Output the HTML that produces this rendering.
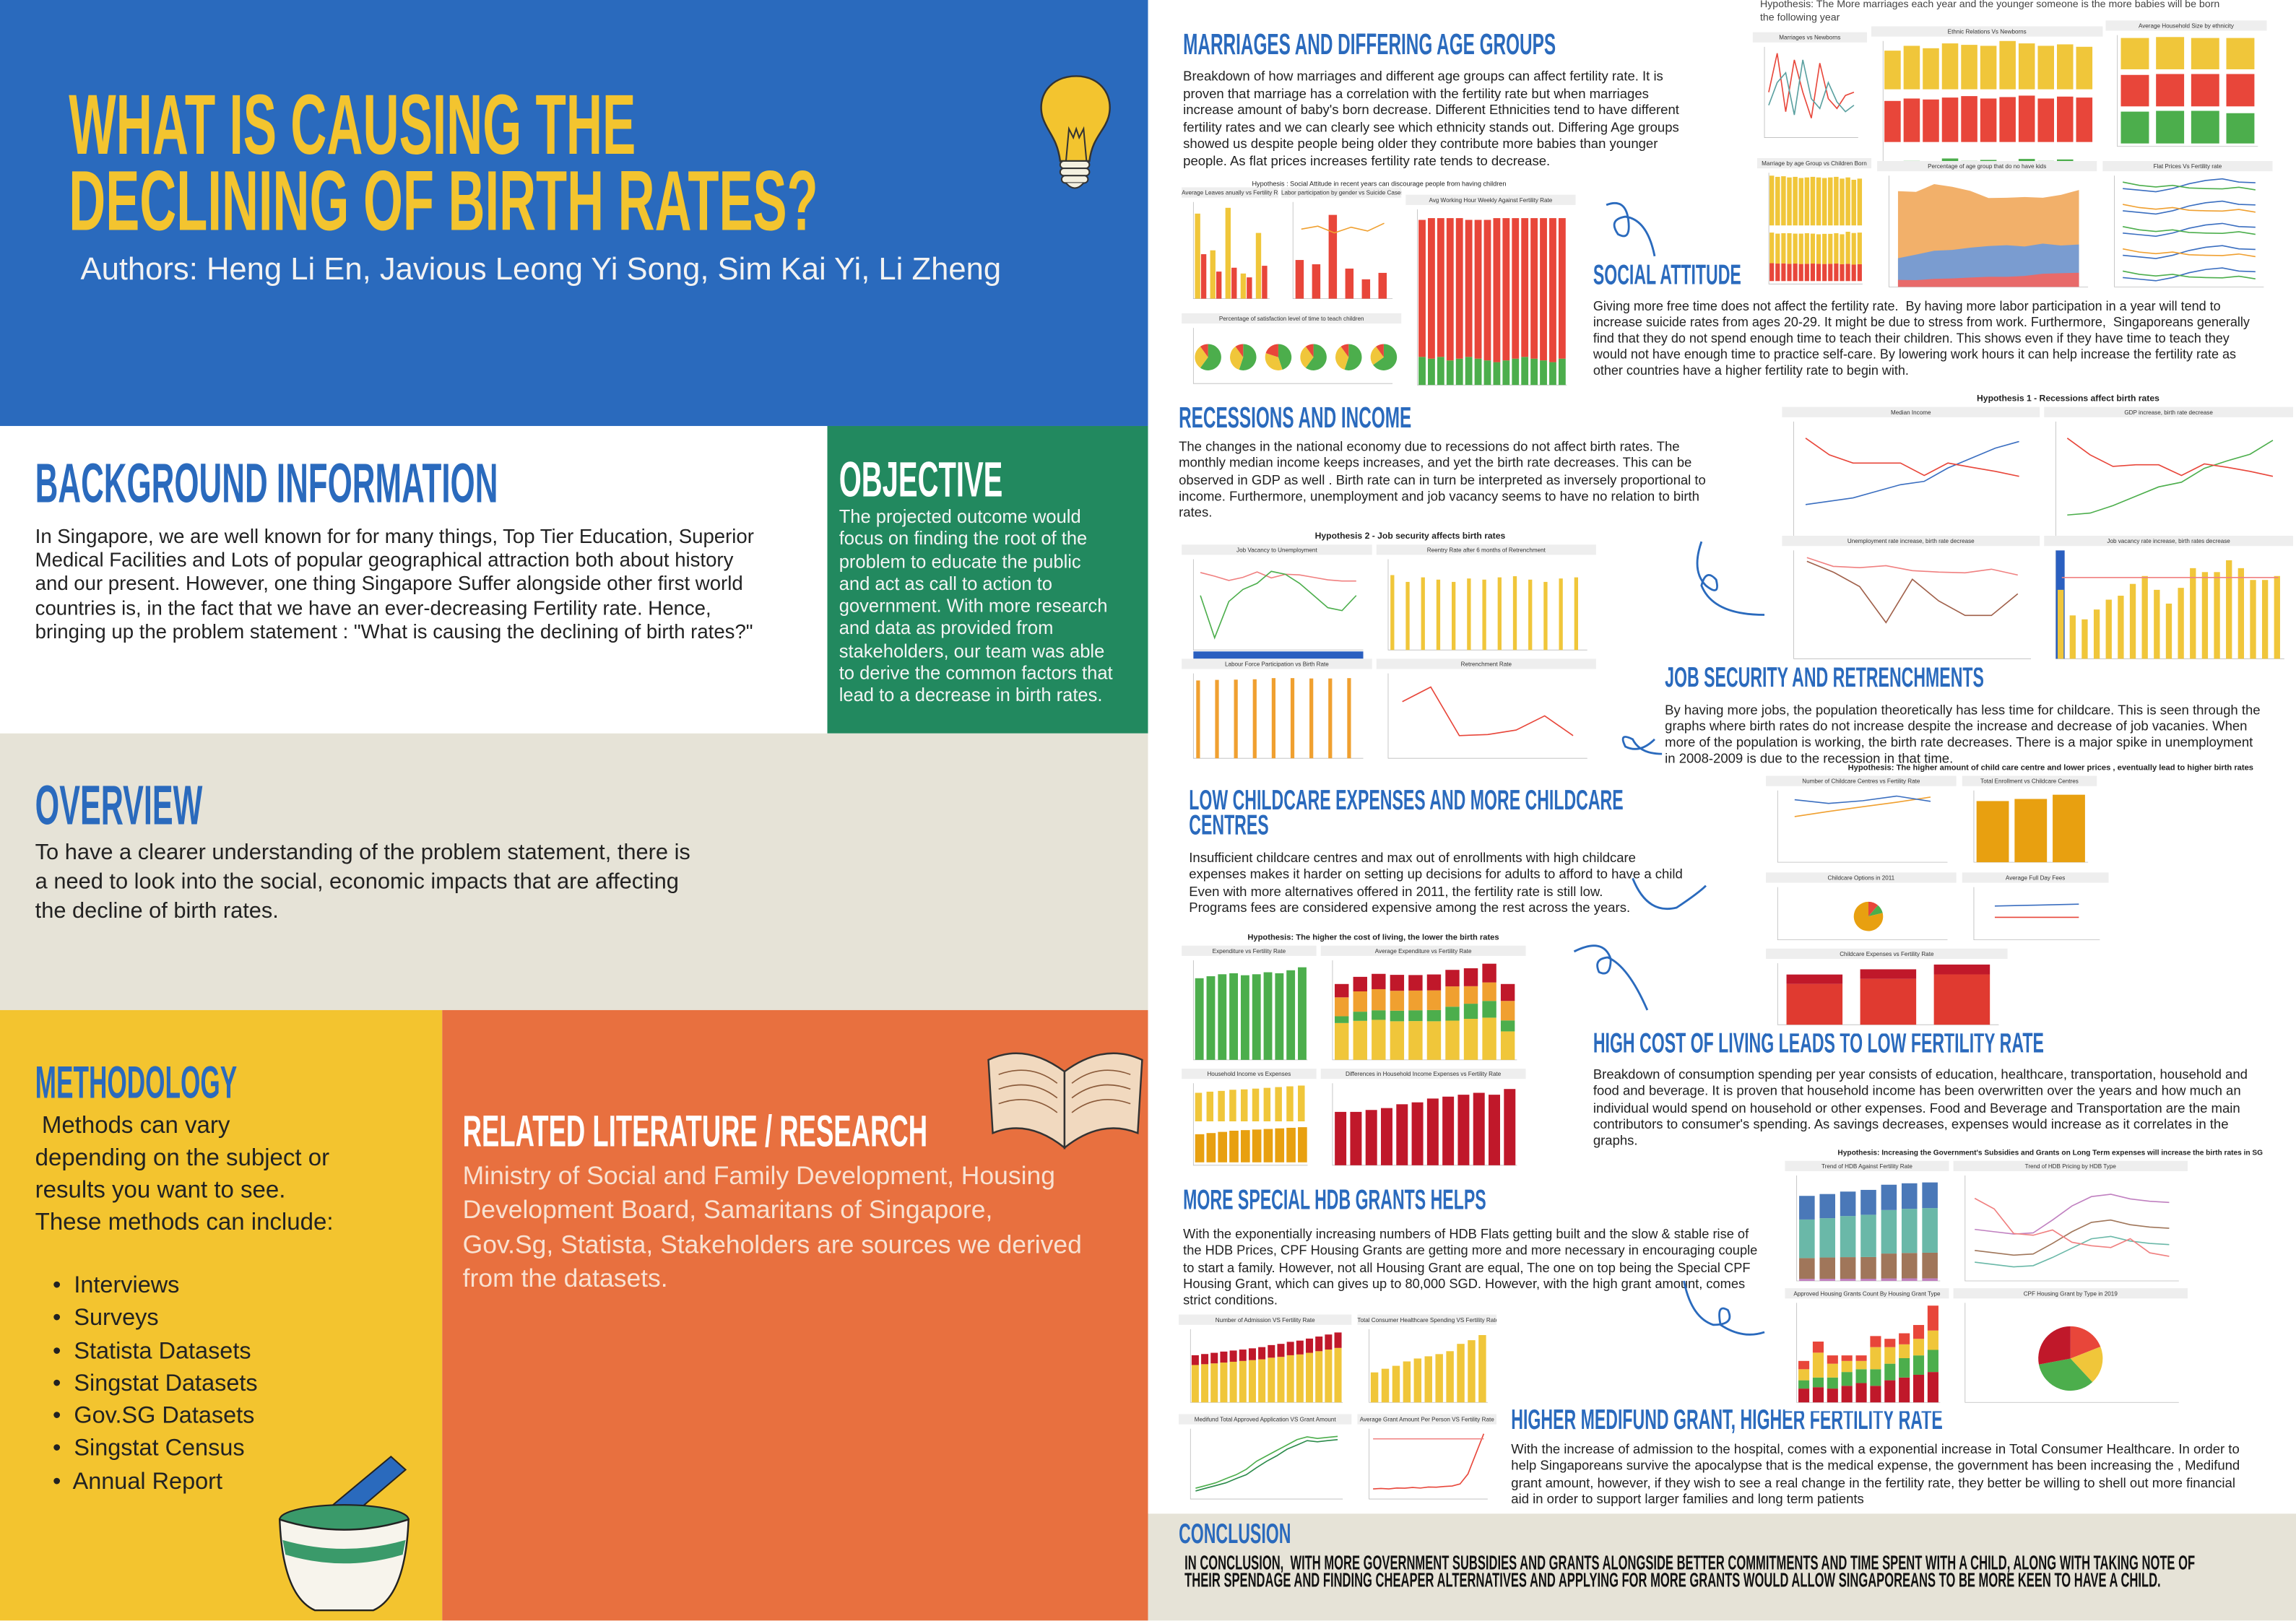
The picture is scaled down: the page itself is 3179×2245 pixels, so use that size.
<!DOCTYPE html>
<html><head><meta charset="utf-8">
<style>
html,body{margin:0;padding:0;background:#fff;}
body{width:3179px;height:2245px;overflow:hidden;}
#poster{position:absolute;left:0;top:0;width:1568px;height:1107px;transform:scale(2.02742);transform-origin:0 0;font-family:"Liberation Sans Narrow","Liberation Sans",sans-serif;}
.blk{position:absolute;}
.h{position:absolute;font-family:"Liberation Sans Narrow","Liberation Sans",sans-serif;font-weight:bold;white-space:nowrap;transform-origin:0 0;transform:scaleX(0.64);color:#2a6abd;}
.t{position:absolute;white-space:nowrap;color:#222;}
.rt{font-size:9.15px;}
.panel{position:absolute;background:#fff;}
.ptitle{position:absolute;left:0;right:0;top:0;height:7px;background:#eee;font-size:4px;line-height:7px;text-align:center;color:#333;font-family:"Liberation Sans",sans-serif;overflow:hidden;white-space:nowrap;}
svg{position:absolute;overflow:visible;}
</style></head><body>
<div id="poster">

<div class="blk" style="left:0;top:0;width:784px;height:291px;background:#2a6abd;"></div>
<div class="h" style="left:47px;top:52px;font-size:58px;color:#f3c42f;transform:scaleX(0.59);">WHAT IS CAUSING THE</div>
<div class="h" style="left:47px;top:104px;font-size:58px;color:#f3c42f;transform:scaleX(0.6);">DECLINING OF BIRTH RATES?</div>
<div class="t" style="left:55px;top:172px;font-family:'Liberation Sans',sans-serif;font-size:21.5px;color:#f2f2f2;">Authors: Heng Li En, Javious Leong Yi Song, Sim Kai Yi, Li Zheng</div>
<svg style="left:700px;top:48px" width="70" height="90" viewBox="0 0 70 90">
<path d="M35 4 C17 4 8 18 12 32 C15 42 22 46 24 62 L44 62 C46 46 54 42 57 32 C61 18 52 4 35 4 Z" fill="#f3c42f" stroke="#333" stroke-width="1.2"/>
<path d="M28 62 L30 40 L33 46 L35 40 L37 46 L40 40 L42 62" fill="none" stroke="#333" stroke-width="1"/>
<rect x="24" y="62" width="20" height="5" rx="2.5" fill="#f4f0e0" stroke="#333"/><rect x="24" y="67" width="20" height="5" rx="2.5" fill="#f4f0e0" stroke="#333"/><rect x="25" y="72" width="18" height="5" rx="2.5" fill="#f4f0e0" stroke="#333"/><path d="M28 77 Q34 84 40 77" fill="#f4f0e0" stroke="#333"/>
</svg>

<div class="blk" style="left:0;top:291px;width:565px;height:210px;background:#fff;"></div>
<div class="h" style="left:24px;top:310px;font-size:38px;transform:scaleX(0.57);">BACKGROUND INFORMATION</div>
<div class="t" style="left:24px;top:359px;font-size:13.6px;line-height:16.2px;">In Singapore, we are well known for for many things, Top Tier Education, Superior<br>Medical Facilities and Lots of popular geographical attraction both about history<br>and our present. However, one thing Singapore Suffer alongside other first world<br>countries is, in the fact that we have an ever-decreasing Fertility rate. Hence,<br>bringing up the problem statement : "What is causing the declining of birth rates?"</div>

<div class="blk" style="left:565px;top:291px;width:219px;height:210px;background:#22895f;"></div>
<div class="h" style="left:573px;top:309px;font-size:34px;color:#fff;transform:scaleX(0.58);">OBJECTIVE</div>
<div class="t" style="left:573px;top:346px;font-size:12.6px;line-height:15.3px;color:#f4f4f4;">The projected outcome would<br>focus on finding the root of the<br>problem to educate the public<br>and act as call to action to<br>government. With more research<br>and data as provided from<br>stakeholders, our team was able<br>to derive the common factors that<br>lead to a decrease in birth rates.</div>

<div class="blk" style="left:0;top:501px;width:784px;height:189px;background:#e6e3d7;"></div>
<div class="h" style="left:24px;top:530px;font-size:38px;transform:scaleX(0.56);">OVERVIEW</div>
<div class="t" style="left:24px;top:573px;font-family:'Liberation Sans',sans-serif;font-size:15.2px;line-height:20px;">To have a clearer understanding of the problem statement, there is<br>a need to look into the social, economic impacts that are affecting<br>the decline of birth rates.</div>

<div class="blk" style="left:0;top:690px;width:302px;height:417px;background:#f3c42f;"></div>
<div class="h" style="left:24px;top:722px;font-size:31px;transform:scaleX(0.56);">METHODOLOGY</div>
<div class="t" style="left:24px;top:758px;font-family:'Liberation Sans',sans-serif;font-size:16.3px;line-height:22px;color:#222;">&nbsp;Methods can vary<br>depending on the subject or<br>results you want to see.<br>These methods can include:</div>
<div class="t" style="left:36px;top:868px;font-family:'Liberation Sans',sans-serif;font-size:16px;line-height:22.3px;color:#222;">•&nbsp; Interviews<br>•&nbsp; Surveys<br>•&nbsp; Statista Datasets<br>•&nbsp; Singstat Datasets<br>•&nbsp; Gov.SG Datasets<br>•&nbsp; Singstat Census<br>•&nbsp; Annual Report</div>
<svg style="left:185px;top:990px" width="100" height="117" viewBox="0 0 100 117">
<path d="M40 40 L82 5 L92 14 L52 48 Z" fill="#2a6abd" stroke="#222" stroke-width="1"/>
<ellipse cx="50" cy="48" rx="44" ry="10" fill="#3a9a6a" stroke="#222"/>
<path d="M6 48 Q8 100 30 110 L70 110 Q92 100 94 48 Q50 62 6 48 Z" fill="#f7f4ec" stroke="#222" stroke-width="1.2"/>
<path d="M8 62 Q50 74 92 62 L90 72 Q50 84 10 72 Z" fill="#3a9a6a"/>
</svg>

<div class="blk" style="left:302px;top:690px;width:482px;height:417px;background:#e8703f;"></div>
<div class="h" style="left:316px;top:757px;font-size:30px;color:#fff;transform:scaleX(0.6);">RELATED LITERATURE / RESEARCH</div>
<div class="t" style="left:316px;top:792px;font-family:'Liberation Sans',sans-serif;font-size:17.5px;line-height:23.3px;color:#f8e2d2;">Ministry of Social and Family Development, Housing<br>Development Board, Samaritans of Singapore,<br>Gov.Sg, Statista, Stakeholders are sources we derived<br>from the datasets.</div>
<svg style="left:670px;top:712px" width="115" height="80" viewBox="0 0 115 80">
<path d="M57 20 Q30 0 5 12 L8 62 Q32 52 57 72 Z" fill="#f1d9bf" stroke="#333" stroke-width="1.2"/>
<path d="M57 20 Q84 0 110 12 L107 62 Q82 52 57 72 Z" fill="#f1d9bf" stroke="#333" stroke-width="1.2"/>
<path d="M12 22 Q34 14 52 28 M12 32 Q34 24 52 38 M12 42 Q34 34 52 48 M62 28 Q80 14 102 22 M62 38 Q80 24 102 32 M62 48 Q80 34 102 42" stroke="#8a5a3a" stroke-width="0.8" fill="none"/>
</svg>

<div class="blk" style="left:784px;top:0;width:784px;height:1034px;background:#fff;"></div>
<div class="blk" style="left:784px;top:1034px;width:784px;height:73px;background:#e6e3d7;"></div>

<div class="h" style="left:808px;top:20px;font-size:20px;transform:scaleX(0.6);">MARRIAGES AND DIFFERING AGE GROUPS</div>
<div class="t rt" style="left:808px;top:47px;line-height:11.6px;">Breakdown of how marriages and different age groups can affect fertility rate. It is<br>proven that marriage has a correlation with the fertility rate but when marriages<br>increase amount of baby's born decrease. Different Ethnicities tend to have different<br>fertility rates and we can clearly see which ethnicity stands out. Differing Age groups<br>showed us despite people being older they contribute more babies than younger<br>people. As flat prices increases fertility rate tends to decrease.</div>

<div class="h" style="left:1088px;top:178px;font-size:19px;transform:scaleX(0.6);">SOCIAL ATTITUDE</div>
<div class="t rt" style="left:1088px;top:204px;font-size:8.9px;line-height:10.9px;">Giving more free time does not affect the fertility rate.&nbsp; By having more labor participation in a year will tend to<br>increase suicide rates from ages 20-29. It might be due to stress from work. Furthermore,&nbsp; Singaporeans generally<br>find that they do not spend enough time to teach their children. This shows even if they have time to teach they<br>would not have enough time to practice self-care. By lowering work hours it can help increase the fertility rate as<br>other countries have a higher fertility rate to begin with.</div>

<div class="h" style="left:805px;top:275px;font-size:20px;transform:scaleX(0.6);">RECESSIONS AND INCOME</div>
<div class="t rt" style="left:805px;top:300px;line-height:11.3px;">The changes in the national economy due to recessions do not affect birth rates. The<br>monthly median income keeps increases, and yet the birth rate decreases. This can be<br>observed in GDP as well . Birth rate can in turn be interpreted as inversely proportional to<br>income. Furthermore, unemployment and job vacancy seems to have no relation to birth<br>rates.</div>

<div class="h" style="left:1137px;top:453px;font-size:19px;transform:scaleX(0.6);">JOB SECURITY AND RETRENCHMENTS</div>
<div class="t rt" style="left:1137px;top:480px;line-height:11px;">By having more jobs, the population theoretically has less time for childcare. This is seen through the<br>graphs where birth rates do not increase despite the increase and decrease of job vacanies. When<br>more of the population is working, the birth rate decreases. There is a major spike in unemployment<br>in 2008-2009 is due to the recession in that time.</div>

<div class="h" style="left:812px;top:539px;font-size:19px;line-height:17px;transform:scaleX(0.6);">LOW CHILDCARE EXPENSES AND MORE CHILDCARE<br>CENTRES</div>
<div class="t rt" style="left:812px;top:581px;line-height:11.3px;">Insufficient childcare centres and max out of enrollments with high childcare<br>expenses makes it harder on setting up decisions for adults to afford to have a child<br>Even with more alternatives offered in 2011, the fertility rate is still low.<br>Programs fees are considered expensive among the rest across the years.</div>

<div class="h" style="left:1088px;top:703px;font-size:19px;transform:scaleX(0.6);">HIGH COST OF LIVING LEADS TO LOW FERTILITY RATE</div>
<div class="t rt" style="left:1088px;top:729px;line-height:11.3px;">Breakdown of consumption spending per year consists of education, healthcare, transportation, household and<br>food and beverage. It is proven that household income has been overwritten over the years and how much an<br>individual would spend on household or other expenses. Food and Beverage and Transportation are the main<br>contributors to consumer's spending. As savings decreases, expenses would increase as it correlates in the<br>graphs.</div>

<div class="h" style="left:808px;top:810px;font-size:19px;transform:scaleX(0.6);">MORE SPECIAL HDB GRANTS HELPS</div>
<div class="t rt" style="left:808px;top:838px;font-size:9px;line-height:11.3px;">With the exponentially increasing numbers of HDB Flats getting built and the slow &amp; stable rise of<br>the HDB Prices, CPF Housing Grants are getting more and more necessary in encouraging couple<br>to start a family. However, not all Housing Grant are equal, The one on top being the Special CPF<br>Housing Grant, which can gives up to 80,000 SGD. However, with the high grant amount, comes<br>strict conditions.</div>

<div class="h" style="left:1032px;top:960px;font-size:19px;transform:scaleX(0.6);">HIGHER MEDIFUND GRANT, HIGHER FERTILITY RATE</div>
<div class="t rt" style="left:1032px;top:985px;line-height:11.3px;">With the increase of admission to the hospital, comes with a exponential increase in Total Consumer Healthcare. In order to<br>help Singaporeans survive the apocalypse that is the medical expense, the government has been increasing the , Medifund<br>grant amount, however, if they wish to see a real change in the fertility rate, they better be willing to shell out more financial<br>aid in order to support larger families and long term patients</div>

<div class="h" style="left:805px;top:1038px;font-size:19px;transform:scaleX(0.6);">CONCLUSION</div>
<div class="h" style="left:809px;top:1062px;font-size:13.5px;line-height:12px;color:#111;transform:scaleX(0.605);">IN CONCLUSION,&nbsp; WITH MORE GOVERNMENT SUBSIDIES AND GRANTS ALONGSIDE BETTER COMMITMENTS AND TIME SPENT WITH A CHILD, ALONG WITH TAKING NOTE OF<br>THEIR SPENDAGE AND FINDING CHEAPER ALTERNATIVES AND APPLYING FOR MORE GRANTS WOULD ALLOW SINGAPOREANS TO BE MORE KEEN TO HAVE A CHILD.</div>

<div class="t" style="left:1202px;top:-1px;font-size:7px;line-height:9px;color:#444;">Hypothesis: The More marriages each year and the younger someone is the more babies will be born<br>the following year</div>
<div class="t" style="left:1350px;top:270px;font-size:6px;font-weight:bold;color:#222;">Hypothesis 1 - Recessions affect birth rates</div>
<div class="t" style="left:898px;top:364px;font-size:6px;font-weight:bold;color:#222;">Hypothesis 2 - Job security affects birth rates</div>
<div class="t" style="left:1262px;top:522px;font-size:5.5px;font-weight:bold;color:#222;">Hypothesis: The higher amount of child care centre and lower prices , eventually lead to higher birth rates</div>
<div class="t" style="left:852px;top:638px;font-size:5.5px;font-weight:bold;color:#222;">Hypothesis: The higher the cost of living, the lower the birth rates</div>
<div class="t" style="left:1255px;top:785px;font-size:5px;font-weight:bold;color:#222;">Hypothesis: Increasing the Government's Subsidies and Grants on Long Term expenses will increase the birth rates in SG</div>
<div class="t" style="left:855px;top:123px;font-size:4.5px;color:#222;">Hypothesis : Social Attitude in recent years can discourage people from having children</div>

<svg id="deco" style="left:0;top:0" width="1568" height="1107" viewBox="0 0 1568 1107">
<g fill="none" stroke="#2a6abd" stroke-width="1.4">
<path d="M1097 140 Q1110 135 1112 150 Q1114 165 1105 160 Q1098 150 1110 148 Q1125 150 1130 175"/>
<path d="M1162 370 Q1155 390 1165 400 Q1175 408 1172 396 Q1165 388 1162 400 Q1170 420 1205 420"/>
<path d="M1130 505 Q1120 515 1110 510 Q1105 500 1115 505 Q1120 515 1135 515"/>
<path d="M1115 600 Q1125 625 1145 620 Q1160 610 1165 605"/>
<path d="M1075 650 Q1095 640 1100 655 Q1100 668 1092 664 Q1088 655 1098 654 Q1112 660 1125 690"/>
<path d="M1150 875 Q1155 900 1170 905 Q1185 905 1180 895 Q1172 890 1175 905 Q1190 915 1205 910"/>
</g></svg>

<div id="charts"></div>
</div>

<script>
const leaveCountries = ['Indonesia','Japan','Russia','Singapore','UK'];
const leaveDays = [4.4, 2.5, 4.7, 1.3, 3.4];
const leaveFert = [2.3, 1.4, 1.6, 1.1, 1.7];
const labourYears = ['2014','2015','2016','2017','2018','2019'];
const labourPart = [1.8, 1.6, 3.9, 1.4, 0.9, 1.2];
const suicideLine = [0.72, 0.75, 0.68, 0.74, 0.70, 0.78];
const workHourYears = ['2010','2011','2012','2013','2014','2015','2016','2017','2018','2019','2020','2021','2022','2023','2024','2025'];
const workRed = [78,80,79,81,80,78,79,80,82,81,80,79,80,81,82,80];
const workGreen = [16,15,16,14,15,16,15,14,13,14,15,16,15,14,13,15];
const pieCountries = ['Global','Indonesia','Japan','Russia','Singapore','UK'];
const pieSatisfied = [60, 55, 45, 60, 55, 65];
const pieNeutral = [30, 35, 35, 30, 35, 25];
const pieUnsat = [10, 10, 20, 10, 10, 10];
const marriageYears = ['2009','2010','2011','2012','2013','2014','2015','2016','2017','2018','2019'];
const marriageChange = [0.02, 0.14, -0.04, 0.12, 0.02, -0.06, 0.11, 0.0, -0.03, 0.01, 0.02];
const newbornChange = [-0.02, 0.05, 0.08, -0.05, 0.12, 0.0, -0.03, 0.05, -0.01, -0.04, -0.02];
const ethYears = ['2008','2009','2010','2011','2012','2013','2014','2015','2016','2017','2018'];
const ethChinese = [0.8, 0.9, 0.85, 0.95, 0.92, 0.9, 1.0, 0.95, 0.9, 0.93, 0.88];
const ethMalay = [0.85, 0.9, 0.88, 0.92, 0.95, 0.9, 0.93, 0.96, 0.9, 0.94, 0.92];
const ethOthers = [0.6, 0.7, 0.65, 0.75, 0.7, 0.72, 0.68, 0.74, 0.7, 0.73, 0.69];
const hhYears = ['2008','2010','2013','2015'];
const hhChinese = [3.3, 3.4, 3.3, 3.3];
const hhMalay = [3.5, 3.6, 3.6, 3.6];
const hhOthers = [4.1, 4.2, 4.2, 3.9];
const ageYears = ['2011','2012','2013','2014','2015','2016','2017','2018','2019','2020','2021','2022','2023','2024','2025','2026'];
const ageA = [0.85,0.83,0.84,0.82,0.83,0.81,0.82,0.83,0.82,0.81,0.82,0.83,0.8,0.82,0.78,0.8];
const ageB = [1.45,1.42,1.43,1.45,1.42,1.44,1.45,1.42,1.40,1.43,1.42,1.44,1.42,1.52,1.5,1.5];
const nokidYears = ['1999','2001','2003','2005','2007','2009','2011','2013','2015','2017','2019'];
const nokidOld = [3.5, 3.3, 4.0, 4.2, 4.6, 5.0, 5.0, 5.4, 6.5, 6.8, 7.0];
const nokidMid = [14.2, 16.0, 17.9, 18.3, 19.4, 20.2, 20.6, 20.0, 21.4, 20.5, 21.0];
const nokidYoung = [47.3, 47.0, 50.8, 49.5, 47.5, 43.9, 44.1, 44.4, 44.1, 45.5, 47.9];
const flatYears = ['2001','2003','2005','2007','2009','2011','2013','2015','2017'];
const flatPrice = [1.2, 1.15, 1.1, 1.2, 1.35, 1.45, 1.5, 1.4, 1.38];
const flatFert = [1.4, 1.3, 1.25, 1.3, 1.22, 1.2, 1.19, 1.24, 1.16];
const incomeYears = ['2000','2002','2004','2006','2008','2010','2012','2014','2016','2018'];
const medianIncome = [2.0, 2.1, 2.2, 2.4, 2.6, 2.7, 3.1, 3.4, 3.7, 3.9];
const fertIncome = [1.6, 1.4, 1.3, 1.3, 1.3, 1.15, 1.3, 1.25, 1.2, 1.14];
const gdpPerCap = [60, 62, 70, 80, 90, 95, 110, 118, 125, 140];
const fertGdp = [1.6, 1.4, 1.26, 1.28, 1.28, 1.15, 1.29, 1.25, 1.2, 1.14];
const unempYears = ['2001','2003','2005','2007','2009','2011','2013','2015','2017'];
const unempRate = [1.35, 1.2, 1.0, 0.5, 1.1, 0.8, 0.6, 0.6, 0.9];
const fertUnemp = [1.4, 1.28, 1.26, 1.29, 1.22, 1.2, 1.19, 1.24, 1.16];
const vacYears = ['2000','2001','2002','2003','2004','2005','2006','2007','2008','2009','2010','2011','2012','2013','2014','2015','2016','2017','2018'];
const vacRate = [3.5,2.2,2.0,2.5,3.0,3.2,3.8,4.2,3.5,2.8,3.6,4.6,4.4,4.4,5.0,4.6,4.0,4.0,4.2];
const jvuYears = ['2008','2009','2010','2011','2012','2013','2014','2015','2016','2017','2018','2019'];
const jvuRatio = [0.9, 0.2, 0.8, 1.0, 1.1, 1.3, 1.25, 1.1, 0.9, 0.7, 0.65, 0.9];
const jvuFert = [1.28, 1.22, 1.15, 1.2, 1.29, 1.19, 1.25, 1.24, 1.2, 1.16, 1.14, 1.14];
const reentryYears = ['2007','2008','2009','2010','2011','2012','2013','2014','2015','2016','2017','2018','2019'];
const reentryRate = [66, 60, 64, 62, 60, 63, 62, 64, 65, 62, 60, 63, 64];
const lfYears = ['2011','2012','2013','2014','2015','2016','2017','2018','2019'];
const lfRate = [66, 66.5, 66.7, 67, 68, 68, 67.7, 67.7, 68];
const retrYears = ['2007','2009','2011','2013','2015','2017','2019'];
const retrRate = [1.0, 1.26, 0.4, 0.42, 0.5, 0.75, 0.4];
const retrFert = [1.29, 1.22, 1.2, 1.19, 1.24, 1.16, 1.14];
const ccYears = ['2009','2010','2011','2012','2013'];
const ccCentres = [700, 780, 850, 920, 1000];
const ccFert = [1.22, 1.15, 1.2, 1.29, 1.19];
const enrolYears = ['2016','2017','2018'];
const enrolTotal = [145, 150, 160];
const optionVals = [9, 8, 63];
const expYears = ['2016','2017','2018'];
const expLower = [4.38, 4.92, 5.40];
const expUpper = [1.01, 1.03, 1.06];
const expendYears = ['2011','2012','2013','2014','2015','2016','2017','2018','2019','2020'];
const expendVals = [0.82, 0.84, 0.86, 0.87, 0.85, 0.86, 0.88, 0.87, 0.9, 0.93];
const avgExpYears = ['2011','2012','2013','2014','2015','2016','2017','2018','2019','2020'];
const expFood = [18.5, 19.6, 20.1, 19.4, 19.5, 19.4, 19.7, 20.6, 21.2, 14.3];
const expHealth = [3.4, 4.6, 4.8, 5.3, 5.4, 5.6, 7.0, 7.6, 8.4, 5.5];
const expHouse = [9.5, 10.2, 10.6, 10.0, 9.9, 9.9, 10.2, 8.8, 9.3, 9.8];
const expEdu = [6.7, 7.3, 7.7, 8.0, 7.8, 8.0, 8.3, 9.0, 9.4, 8.5];
const incExpYears = ['2011','2012','2013','2014','2015','2016','2017','2018','2019','2020'];
const incomeBars = [7.5, 7.8, 8.0, 8.3, 8.4, 8.6, 8.8, 9.0, 9.2, 9.4];
const expenseBars = [4.8, 5.0, 5.2, 5.4, 5.5, 5.6, 5.7, 5.8, 5.9, 6.0];
const diffYears = ['2011','2012','2013','2014','2015','2016','2017','2018','2019','2020','2021','2022'];
const diffVals = [2.8, 2.8, 2.9, 3.0, 3.2, 3.3, 3.5, 3.6, 3.7, 3.8, 3.7, 4.0];
const hdbYears = ['2014','2015','2016','2017','2018','2019','2020'];
const hdb3room = [197, 202, 205, 206, 236, 241, 243];
const hdb4room = [366, 373, 390, 401, 413, 419, 424];
const hdb5room = [224, 229, 232, 236, 240, 242, 243];
const priceYears = ['1999','2001','2003','2005','2007','2009','2011','2013','2015','2017','2019'];
const price3 = [280, 270, 260, 265, 300, 340, 380, 390, 370, 360, 355];
const price4 = [330, 320, 310, 315, 360, 410, 450, 460, 440, 430, 425];
const price5 = [420, 410, 400, 405, 460, 520, 560, 570, 550, 540, 535];
const priceFert = [1.47, 1.41, 1.27, 1.26, 1.29, 1.22, 1.2, 1.19, 1.24, 1.16, 1.14];
const grantYears = ['2010','2011','2012','2013','2014','2015','2016','2017','2018','2019'];
const grantSpecial = [5, 5.5, 5, 6, 7, 6, 8, 9, 10, 11];
const grantEnhanced = [3, 3.5, 4, 5, 5, 6, 6, 7, 7, 8];
const grantProximity = [4, 9, 5, 4, 3, 8, 6, 5, 6, 7];
const grantAdditional = [3, 4, 3, 2, 2, 4, 3, 4, 5, 9];
const cpfPie = [19.05, 19.05, 33.9, 28.0];
const admYears = ['2004','2005','2006','2007','2008','2009','2010','2011','2012','2013','2014','2015','2016','2017','2018','2019'];
const admPublic = [460,470,480,490,500,510,520,530,550,560,580,590,610,630,650,670];
const admPrivate = [120,125,130,135,138,140,145,150,155,160,165,170,175,180,185,190];
const healthYears = ['2009','2010','2011','2012','2013','2014','2015','2016','2017','2018','2019'];
const healthSpend = [4.1, 4.6, 5.0, 5.6, 6.0, 6.3, 6.6, 7.0, 8.0, 8.5, 9.2];
const mediYears = ['2005','2006','2007','2008','2009','2010','2011','2012','2013','2014','2015','2016','2017','2018','2019'];
const mediApps = [20, 25, 30, 38, 45, 55, 70, 80, 90, 100, 110, 115, 112, 114, 116];
const mediGrants = [15, 20, 25, 30, 38, 45, 58, 70, 80, 92, 100, 108, 106, 108, 110];
const grantPerYears = ['2005','2006','2007','2008','2009','2010','2011','2012','2013','2014','2015','2016','2017','2018','2019'];
const grantPerPerson = [200, 210, 200, 220, 215, 230, 220, 240, 235, 250, 260, 300, 500, 900, 1300];

const NS = 'http://www.w3.org/2000/svg';
const root = document.getElementById('charts');
function panel(name, x, y, w, h, title) {
  const d = document.createElement('div');
  d.className = 'panel';
  d.style.cssText = 'left:'+x+'px;top:'+y+'px;width:'+w+'px;height:'+h+'px;';
  
  
  if (title) {
    const t = document.createElement('div');
    t.className = 'ptitle';
    t.textContent = title;
    
    
    d.appendChild(t);
  }
  const s = document.createElementNS(NS, 'svg');
  s.setAttribute('width', w); s.setAttribute('height', h);
  s.style.left = '0px'; s.style.top = '0px';
  d.appendChild(s);
  root.appendChild(d);
  const plot = {x: 8, y: title ? 10 : 3, w: w - 14, h: h - (title ? 16 : 9)};
  const ax = document.createElementNS(NS, 'path');
  ax.setAttribute('d', 'M'+plot.x+' '+plot.y+' V'+(plot.y+plot.h)+' H'+(plot.x+plot.w));
  ax.setAttribute('stroke', '#bbb'); ax.setAttribute('stroke-width', '0.4'); ax.setAttribute('fill', 'none');
  
  
  s.appendChild(ax);
  return {s, p: plot, name};
}
function yScale(c, v, lo, hi) { return c.p.y + c.p.h - (v - lo) / (hi - lo) * c.p.h; }
function rect(c, x, y, w, h, fill, nm) {
  const r = document.createElementNS(NS, 'rect');
  r.setAttribute('x', x); r.setAttribute('y', y); r.setAttribute('width', Math.max(0, w)); r.setAttribute('height', Math.max(0, h));
  r.setAttribute('fill', fill);
  
  
  c.s.appendChild(r);
}
function bars(c, cats, vals, lo, hi, color, frac, off) {
  const bw = c.p.w / cats.length;
  vals.forEach((v, i) => {
    const y = yScale(c, v, lo, hi);
    rect(c, c.p.x + i*bw + bw*(off||0.15), y, bw*(frac||0.7), c.p.y + c.p.h - y, color, c.name + '-bar-' + cats[i]);
  });
}
function stack(c, cats, series, colors, hi) {
  const bw = c.p.w / cats.length;
  cats.forEach((cat, i) => {
    let acc = 0;
    series.forEach((ser, k) => {
      const y0 = yScale(c, acc, 0, hi), y1 = yScale(c, acc + ser[i], 0, hi);
      rect(c, c.p.x + i*bw + bw*0.12, y1, bw*0.76, y0 - y1, colors[k], c.name + '-seg-' + cat + '-' + k);
      acc += ser[i];
    });
  });
}
function line(c, cats, vals, lo, hi, color, nm, area) {
  const bw = c.p.w / cats.length;
  const pts = vals.map((v, i) => (c.p.x + i*bw + bw/2).toFixed(1) + ',' + yScale(c, v, lo, hi).toFixed(1));
  const el = document.createElementNS(NS, area ? 'polygon' : 'polyline');
  if (area) {
    pts.push((c.p.x + (cats.length-0.5)*bw).toFixed(1) + ',' + (c.p.y + c.p.h));
    pts.push((c.p.x + 0.5*bw).toFixed(1) + ',' + (c.p.y + c.p.h));
    el.setAttribute('fill', color);
  } else {
    el.setAttribute('fill', 'none'); el.setAttribute('stroke', color); el.setAttribute('stroke-width', '0.8');
  }
  el.setAttribute('points', pts.join(' '));
  
  
  c.s.appendChild(el);
}
function pie(c, cx, cy, r, vals, colors, nm) {
  const tot = vals.reduce((a, b) => a + b, 0);
  let a0 = -Math.PI/2;
  vals.forEach((v, i) => {
    const a1 = a0 + v / tot * Math.PI * 2;
    const large = (a1 - a0) > Math.PI ? 1 : 0;
    const p = document.createElementNS(NS, 'path');
    p.setAttribute('d', 'M'+cx+' '+cy+' L'+(cx+r*Math.cos(a0))+' '+(cy+r*Math.sin(a0))+' A'+r+' '+r+' 0 '+large+' 1 '+(cx+r*Math.cos(a1))+' '+(cy+r*Math.sin(a1))+' Z');
    p.setAttribute('fill', colors[i]);
    
    
    c.s.appendChild(p);
    a0 = a1;
  });
}
const RED = '#e8463a', YEL = '#f0c63a', GRN = '#4cae4c', BLU = '#3a6ec0', ORG = '#f0a030', DRED = '#c0182a';

let c = panel('leave-days-chart', 807, 128, 66, 82, 'Average Leaves anually vs Fertility Rate');
bars(c, leaveCountries, leaveDays, 0, 5, YEL, 0.35, 0.1);
bars(c, leaveCountries, leaveFert, 0, 5, RED, 0.35, 0.5);
c = panel('labour-suicide-chart', 875, 128, 82, 82, 'Labor participation by gender vs Suicide Cases');
bars(c, labourYears, labourPart, 0, 4.5, RED, 0.5);
line(c, labourYears, suicideLine, 0, 1, ORG, 'suicide-line');
c = panel('work-hours-chart', 960, 133, 116, 136, 'Avg Working Hour Weekly Against Fertility Rate');
stack(c, workHourYears, [workGreen, workRed], [GRN, RED], 100);
c = panel('teaching-satisfaction-pies', 807, 214, 150, 54, 'Percentage of satisfaction level of time to teach children');
pieCountries.forEach((cn, i) => pie(c, 18 + i*24, 30, 9, [pieSatisfied[i], pieNeutral[i], pieUnsat[i]], [GRN, YEL, RED], 'pie-' + cn));

c = panel('marriages-newborn-chart', 1197, 22, 78, 78, 'Marriages vs Newborns');
line(c, marriageYears, marriageChange, -0.12, 0.16, RED, 'marriage-line');
line(c, marriageYears, newbornChange, -0.12, 0.16, '#5aa0a0', 'newborn-line');
c = panel('ethnic-chart', 1278, 18, 158, 124, 'Ethnic Relations Vs Newborns');
const eth = {s: c.s, p: {x: c.p.x, y: c.p.y, w: c.p.w, h: c.p.h/3 - 3}, name: 'ethnic-chinese'};
bars(eth, ethYears, ethChinese, 0, 1, YEL, 0.85, 0.07);
const eth2 = {s: c.s, p: {x: c.p.x, y: c.p.y + c.p.h/3, w: c.p.w, h: c.p.h/3 - 3}, name: 'ethnic-malay'};
bars(eth2, ethYears, ethMalay, 0, 1, RED, 0.85, 0.07);
const eth3 = {s: c.s, p: {x: c.p.x, y: c.p.y + 2*c.p.h/3, w: c.p.w, h: c.p.h/3 - 3}, name: 'ethnic-others'};
bars(eth3, ethYears, ethOthers, 0, 1, GRN, 0.85, 0.07);
c = panel('household-size-chart', 1438, 14, 110, 92, 'Average Household Size by ethnicity');
const hh1 = {s: c.s, p: {x: c.p.x, y: c.p.y, w: c.p.w, h: c.p.h/3 - 2}, name: 'household-chinese'};
bars(hh1, hhYears, hhChinese, 0, 3.6, YEL, 0.8, 0.1);
const hh2 = {s: c.s, p: {x: c.p.x, y: c.p.y + c.p.h/3, w: c.p.w, h: c.p.h/3 - 2}, name: 'household-malay'};
bars(hh2, hhYears, hhMalay, 0, 3.8, RED, 0.8, 0.1);
const hh3 = {s: c.s, p: {x: c.p.x, y: c.p.y + 2*c.p.h/3, w: c.p.w, h: c.p.h/3 - 2}, name: 'household-others'};
bars(hh3, hhYears, hhOthers, 0, 4.4, GRN, 0.8, 0.1);
c = panel('age-group-chart', 1200, 108, 78, 92, 'Marriage by age Group vs Children Born');
const ag1 = {s: c.s, p: {x: c.p.x, y: c.p.y, w: c.p.w, h: c.p.h/2 - 2}, name: 'age-young'};
bars(ag1, ageYears, ageA, 0, 0.9, YEL, 0.8, 0.1);
const ag2 = {s: c.s, p: {x: c.p.x, y: c.p.y + c.p.h/2, w: c.p.w, h: c.p.h/2 - 2}, name: 'age-old'};
stack(ag2, ageYears, [ageA, ageB], [RED, YEL], 2.5);
c = panel('no-kids-area-chart', 1282, 110, 150, 92, 'Percentage of age group that do no have kids');
line(c, nokidYears, nokidYoung, 0, 55, '#f2b06a', 'young-area', true);
line(c, nokidYears, nokidMid, 0, 55, '#7a9cd0', 'mid-area', true);
line(c, nokidYears, nokidOld, 0, 55, '#e86a6a', 'old-area', true);
c = panel('flat-prices-chart', 1436, 110, 116, 92, 'Flat Prices Vs Fertility rate');
for (let k = 0; k < 5; k++) {
  const sub = {s: c.s, p: {x: c.p.x, y: c.p.y + k*c.p.h/5, w: c.p.w, h: c.p.h/5 - 2}, name: 'flat-row-' + k};
  line(sub, flatYears, flatPrice, 1.0, 1.6, BLU, 'price-line');
  line(sub, flatYears, flatFert, 1.0, 1.6, k % 2 ? ORG : GRN, 'fert-line');
}

c = panel('median-income-chart', 1217, 278, 176, 118, 'Median Income');
line(c, incomeYears, medianIncome, 0, 4.5, BLU, 'income-line');
line(c, incomeYears, fertIncome, 0, 1.8, RED, 'fertility-line');
c = panel('gdp-chart', 1396, 278, 170, 118, 'GDP increase, birth rate decrease');
line(c, incomeYears, gdpPerCap, 0, 160, GRN, 'gdp-line');
line(c, incomeYears, fertGdp, 0, 1.8, RED, 'fertility-line');
c = panel('unemployment-chart', 1217, 366, 176, 90, 'Unemployment rate increase, birth rate decrease');
line(c, unempYears, unempRate, 0, 1.5, '#a0604a', 'unemp-line');
line(c, unempYears, fertUnemp, 0, 1.5, '#f08080', 'fertility-line');
c = panel('job-vacancy-chart', 1396, 366, 170, 90, 'Job vacancy rate increase, birth rates decrease');
rect(c, c.p.x, c.p.y, 6, c.p.h, '#2a5fc0', 'job-vacancy-highlight');
bars(c, vacYears, vacRate, 0, 5.5, YEL, 0.5);
line(c, vacYears, vacRate.map(() => 1.2), 0, 1.6, '#f08080', 'fertility-line');
c = panel('vacancy-unemployment-chart', 807, 372, 130, 78, 'Job Vacancy to Unemployment');
line(c, jvuYears, jvuFert, 0, 1.5, '#f08080', 'fertility-line');
line(c, jvuYears, jvuRatio, 0, 1.5, GRN, 'ratio-line');
rect(c, c.p.x, c.p.y + c.p.h + 1, c.p.w, 5, '#2a5fc0', 'year-filter-bar');
c = panel('reentry-chart', 940, 372, 150, 78, 'Reentry Rate after 6 months of Retrenchment');
bars(c, reentryYears, reentryRate, 0, 80, YEL, 0.25);
c = panel('labour-force-chart', 807, 450, 130, 74, 'Labour Force Participation vs Birth Rate');
bars(c, lfYears, lfRate, 0, 72, ORG, 0.2);
c = panel('retrenchment-chart', 940, 450, 150, 74, 'Retrenchment Rate');
line(c, retrYears, retrRate, 0, 1.5, RED, 'retrenchment-line');

c = panel('childcare-centres-chart', 1206, 530, 130, 65, 'Number of Childcare Centres vs Fertility Rate');
line(c, ccYears, ccCentres, 0, 1100, ORG, 'centres-line');
line(c, ccYears, ccFert, 0, 1.4, BLU, 'fertility-line');
c = panel('enrollment-chart', 1340, 530, 92, 65, 'Total Enrollment vs Childcare Centres');
bars(c, enrolYears, enrolTotal, 0, 170, '#e8a010', 0.85, 0.07);
c = panel('childcare-options-chart', 1206, 596, 130, 52, 'Childcare Options in 2011');
pie(c, 70, 30, 10, optionVals, [RED, GRN, '#e8a010'], 'options-pie');
c = panel('fees-chart', 1340, 596, 100, 52, 'Average Full Day Fees');
line(c, expYears, [0.9, 0.92, 0.95], 0, 1.4, BLU, 'fees-line');
line(c, expYears, [0.6, 0.6, 0.6], 0, 1.4, RED, 'fertility-line');
c = panel('childcare-expenses-chart', 1206, 648, 165, 58, 'Childcare Expenses vs Fertility Rate');
stack(c, expYears, [expLower, expUpper], ['#e03a30', DRED], 6.6);

c = panel('expenditure-chart', 807, 646, 92, 84, 'Expenditure vs Fertility Rate');
bars(c, expendYears, expendVals, 0, 1, GRN, 0.75);
c = panel('avg-expenditure-chart', 902, 646, 140, 84, 'Average Expenditure vs Fertility Rate');
stack(c, avgExpYears, [expFood, expHealth, expHouse, expEdu], [YEL, GRN, ORG, DRED], 50);
c = panel('income-expenses-chart', 807, 730, 92, 72, 'Household Income vs Expenses');
const ie1 = {s: c.s, p: {x: c.p.x, y: c.p.y, w: c.p.w, h: c.p.h/2 - 2}, name: 'income-bars'};
bars(ie1, incExpYears, incomeBars, 0, 10, YEL, 0.6);
const ie2 = {s: c.s, p: {x: c.p.x, y: c.p.y + c.p.h/2, w: c.p.w, h: c.p.h/2 - 2}, name: 'expense-bars'};
bars(ie2, incExpYears, expenseBars, 0, 6.5, '#e8a010', 0.8);
c = panel('income-difference-chart', 902, 730, 140, 72, 'Differences in Household Income Expenses vs Fertility Rate');
bars(c, diffYears, diffVals, 0, 4.3, DRED, 0.75);

c = panel('hdb-units-chart', 1219, 793, 112, 88, 'Trend of HDB Against Fertility Rate');
stack(c, hdbYears, [hdb3room.map(v=>v*0.1), hdb3room, hdb4room, hdb5room], ['#c080c0', '#a0765a', '#6ab8a8', '#4a78b8'], 1000);
c = panel('hdb-pricing-chart', 1334, 793, 160, 88, 'Trend of HDB Pricing by HDB Type');
line(c, priceYears, price3, 200, 650, '#6ab8a8', 'price-3room');
line(c, priceYears, price4, 200, 650, '#a0765a', 'price-4room');
line(c, priceYears, price5, 200, 650, '#c080c0', 'price-5room');
line(c, priceYears, priceFert, 1.0, 1.6, '#f08080', 'fertility-line');
c = panel('grants-count-chart', 1219, 880, 112, 84, 'Approved Housing Grants Count By Housing Grant Type');
stack(c, grantYears, [grantSpecial, grantEnhanced, grantProximity, grantAdditional], [DRED, GRN, YEL, RED], 36);
c = panel('cpf-grant-chart', 1334, 880, 160, 84, 'CPF Housing Grant by Type in 2019');
pie(c, 80, 48, 22, cpfPie, [RED, YEL, GRN, DRED], 'cpf-pie');

c = panel('admission-chart', 805, 898, 118, 66, 'Number of Admission VS Fertility Rate');
stack(c, admYears, [admPublic, admPrivate], [YEL, DRED], 900);
c = panel('healthcare-spending-chart', 927, 898, 95, 66, 'Total Consumer Healthcare Spending VS Fertility Rate');
bars(c, healthYears, healthSpend, 0, 10, YEL, 0.7);
c = panel('medifund-chart', 805, 966, 118, 64, 'Medifund Total Approved Application VS Grant Amount');
line(c, mediYears, mediApps, 0, 130, GRN, 'applications-line');
line(c, mediYears, mediGrants, 0, 130, '#2a8a4a', 'grants-line');
c = panel('grant-per-person-chart', 927, 966, 95, 64, 'Average Grant Amount Per Person VS Fertility Rate');
line(c, grantPerYears, grantPerPerson, 0, 1400, RED, 'grant-line');
line(c, grantPerYears, grantPerYears.map(() => 1200), 0, 1400, '#f08080', 'fertility-line');
</script>
</body></html>
